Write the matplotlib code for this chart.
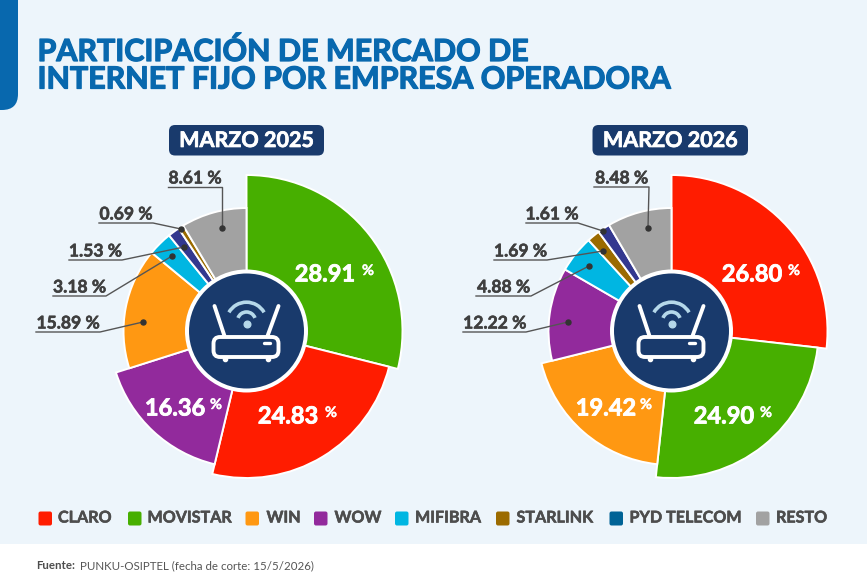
"""Participacion de mercado de internet fijo: two exploded-radius pies with a router badge."""
import matplotlib; matplotlib.use("Agg"); import matplotlib.pyplot as plt
import matplotlib.patheffects as pe
from matplotlib.patches import FancyBboxPatch, Circle, Arc

W, H = 867, 587
FONT = "Lato"
COLORS = dict(CLARO="#FF1C00", MOVISTAR="#47AF00", WIN="#FF9812", WOW="#922A9C", MIFIBRA="#00B6E2",
              STARLINK="#9B6B00", PYD="#33388F", RESTO="#A2A2A2")
NAVY = "#193A6C"; INK = "#3F3F3F"; PANEL = "#EDF5FB"; BLUE = "#0868AE"

# values, clockwise from 12 o'clock
names_2025 = ["MOVISTAR", "CLARO", "WOW", "WIN", "MIFIBRA", "PYD", "STARLINK", "RESTO"]
vals_2025 = [28.91, 24.83, 16.36, 15.89, 3.18, 1.53, 0.69, 8.61]
names_2026 = ["CLARO", "MOVISTAR", "WIN", "WOW", "MIFIBRA", "STARLINK", "PYD", "RESTO"]
vals_2026 = [26.80, 24.90, 19.42, 12.22, 4.88, 1.69, 1.61, 8.48]
radii_2025 = [156, 147, 137, 123, 123, 123, 123, 123]
radii_2026 = [156, 147, 134, 123, 123, 123, 123, 123]

legend_names = ["CLARO", "MOVISTAR", "WIN", "WOW", "MIFIBRA", "STARLINK", "PYD TELECOM", "RESTO"]
legend_colors = ["#FF1C00", "#47AF00", "#FF9812", "#922A9C", "#00B6E2", "#9B6B00", "#006396", "#A2A2A2"]
legend_sq = [38.5, 128, 245.5, 314, 395, 496, 609.5, 756]
legend_tx = [58, 147.5, 266.5, 334.5, 415, 516.5, 629.5, 776]

Y = lambda py: H - py

fig = plt.figure(figsize=(W / 100, H / 100), dpi=100, facecolor="white")
ax = fig.add_axes([0, 0, 1, 1])


def heavy(txt, lw, color):
    # Lato has no usable black weight here, so fatten the bold with a thin stroke
    txt.set_path_effects([pe.withStroke(linewidth=lw, foreground=color)])
    return txt


def pill(x0, y0, x1, y1, r, **kw):
    ax.add_patch(FancyBboxPatch((x0 + r, Y(y1) + r), x1 - x0 - 2 * r, y1 - y0 - 2 * r, boxstyle=f"round,pad={r},rounding_size={r}", **kw))


def callout(x0, x1, y, dx, dy, txt):
    ax.plot([x0, x1, dx], [Y(y), Y(y), Y(dy)], color="#555555", lw=1.0, zorder=6, solid_joinstyle="round")
    ax.plot([dx], [Y(dy)], "o", ms=3.6, color="#333333", zorder=7)
    t = ax.text((x0 + x1) / 2, Y(y - 0.5), txt, ha="center", va="bottom", fontsize=12.6, fontweight="bold", family=FONT, color=INK, zorder=7)
    heavy(t, 0.4, INK)


def big_label(x, y, num):
    t = ax.text(x, Y(y + 1), num, ha="center", va="center", fontsize=17, fontweight="bold", family=FONT, color="white", zorder=7)
    heavy(t, 0.6, "white")


def pct(x, y):
    t = ax.text(x, Y(y), "%", ha="center", va="center", fontsize=10.5, fontweight="bold", family=FONT, color="white", zorder=7)
    heavy(t, 0.3, "white")


def router(cx, cy):
    ax.add_patch(Circle((cx, Y(cy)), 61.5, fc="white", ec="none", zorder=4))
    ax.add_patch(Circle((cx, Y(cy)), 57.5, fc=NAVY, ec="none", zorder=5))
    # body + antennas
    pill(cx - 33, cy + 6, cx + 32, cy + 26, 6.5, fc="none", ec="white", lw=2.8, zorder=6)
    ax.plot([cx - 32, cx - 22], [Y(cy - 25), Y(cy + 5)], color="white", lw=2.8, solid_capstyle="round", zorder=6)
    ax.plot([cx + 32, cx + 21], [Y(cy - 25), Y(cy + 5)], color="white", lw=2.8, solid_capstyle="round", zorder=6)
    ax.plot([cx + 17, cx + 23], [Y(cy + 12), Y(cy + 12)], color="white", lw=2.4, solid_capstyle="round", zorder=6)
    for fx in (-22, 21):
        ax.plot([cx + fx], [Y(cy + 27.5)], "o", ms=3, color="white", zorder=6)
    # wifi
    wifi = "#B5D8EA"
    ax.plot([cx], [Y(cy - 7)], "o", ms=4.8, color=wifi, zorder=6)
    ax.add_patch(Arc((cx, Y(cy - 10)), 18, 18, theta1=20, theta2=160, color=wifi, lw=2.6, zorder=6))
    ax.add_patch(Arc((cx, Y(cy - 8.5)), 40.6, 40.6, theta1=30, theta2=150, color=wifi, lw=2.6, zorder=6))


def donut(names, vals, radii, cx, cy):
    wedges, _ = ax.pie(vals, colors=[COLORS[n] for n in names], startangle=90, counterclock=False, center=(cx, Y(cy)), radius=122,
                       wedgeprops=dict(edgecolor="white", linewidth=1.4, zorder=3))
    for w, r in zip(wedges, radii):
        w.set_radius(r)
    router(cx, cy)


# background panel, rounded only at the bottom
pill(-40, -40, W + 40, 544, 30, fc=PANEL, ec="none", zorder=0)
pill(-40, -40, 18, 110, 16, fc=BLUE, ec="none", zorder=1)

donut(names_2025, vals_2025, radii_2025, 246.5, 331)
donut(names_2026, vals_2026, radii_2026, 671.5, 331)

for yy, line in ((51.5, "PARTICIPACIÓN DE MERCADO DE"), (79.5, "INTERNET FIJO POR EMPRESA OPERADORA")):
    t = ax.text(37.5, Y(yy), line, ha="left", va="center", fontsize=21.9, fontweight="bold", family=FONT, color=BLUE)
    heavy(t, 0.9, BLUE)

for x0, x1, lab in ((169, 324, "MARZO 2025"), (592.5, 748, "MARZO 2026")):
    pill(x0, 125, x1, 155.5, 6, fc=NAVY, ec="none", zorder=2)
    t = ax.text((x0 + x1) / 2, Y(140.5), lab, ha="center", va="center", fontsize=15.5, fontweight="bold", family=FONT, color="white", zorder=3)
    heavy(t, 0.5, "white")

# callouts, pixel spots
callout(168, 222, 187, 222, 228, "8.61 %")
callout(99, 153, 223, 181, 229, "0.69 %")
callout(69, 122, 260, 184, 247, "1.53 %")
callout(53, 106, 296, 172, 256, "3.18 %")
callout(36, 100, 332, 143, 322, "15.89 %")
callout(594, 649, 187, 648, 228, "8.48 %")
callout(526, 578, 223, 603, 231, "1.61 %")
callout(494, 547, 260, 603, 251, "1.69 %")
callout(476, 531, 296, 589, 266, "4.88 %")
callout(463, 526, 332, 568, 322, "12.22 %")

big_label(325, 273, "28.91"); pct(368, 271)
big_label(288, 415, "24.83"); pct(331, 413)
big_label(175, 407, "16.36"); pct(216, 405)
big_label(752, 273, "26.80"); pct(794, 271)
big_label(724, 415, "24.90"); pct(766, 413)
big_label(606, 407, "19.42"); pct(646, 405)

for nm, c, sx, tx in zip(legend_names, legend_colors, legend_sq, legend_tx):
    pill(sx, 511.5, sx + 13.5, 525.5, 2, fc=c, ec="none", zorder=2)
    t = ax.text(tx, Y(518.5), nm, ha="left", va="center", fontsize=11.6, fontweight="bold", family=FONT, color="#4D4D4D", zorder=2)
    heavy(t, 0.4, "#4D4D4D")

ax.text(36.5, Y(565.5), "Fuente:", ha="left", va="center", fontsize=8.3, fontweight="bold", family=FONT, color="#4D4D4D")
ax.text(80, Y(565.5), "PUNKU-OSIPTEL (fecha de corte: 15/5/2026)", ha="left", va="center", fontsize=8.3, family=FONT, color="#555555")

ax.set_xlim(0, W); ax.set_ylim(0, H); ax.set_aspect("auto"); ax.axis("off")
fig.savefig("out.png", dpi=100, facecolor="white")
